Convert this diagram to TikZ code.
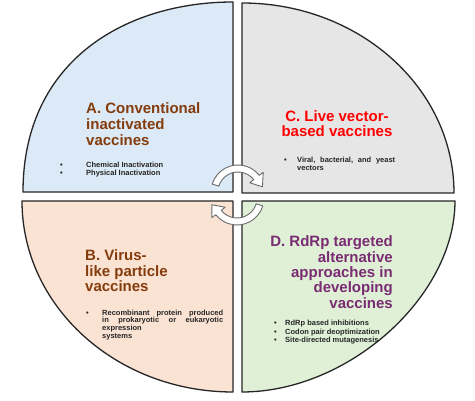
\documentclass[tikz,border=0pt]{standalone}
\usepackage{fontspec}
\setmainfont{Liberation Sans}
\definecolor{qA}{HTML}{DCE9F6}
\definecolor{qB}{HTML}{FBE3D4}
\definecolor{qC}{HTML}{E7E6E6}
\definecolor{qD}{HTML}{E0F0D7}
\definecolor{ttlbrown}{HTML}{843C0C}
\definecolor{ttlred}{HTML}{FF0000}
\definecolor{ttlpurple}{HTML}{7A2C73}
\definecolor{edge}{HTML}{262626}
\definecolor{arrowedge}{HTML}{6B6B6B}
\begin{document}
\begin{tikzpicture}[x=1pt,y=1pt,
  quad/.style={draw=edge, line width=1.3pt, line join=round},
  cyclearrow/.style={fill=white, draw=arrowedge, line width=0.9pt, line join=round},
  ttl/.style={font=\fontsize{15}{15.6}\selectfont\bfseries, inner sep=0pt},
  blt/.style={font=\fontsize{7.5}{8.3}\selectfont\bfseries, text=black!85, inner sep=0pt},
  bltB/.style={font=\fontsize{7.5}{7.6}\selectfont\bfseries, text=black!85, inner sep=0pt}]
\useasboundingbox (0,0) rectangle (475,401);
\fill[white] (0,0) rectangle (475,401);
% quadrants
\path[quad, fill=qA] (233,209) -- (233,399) .. controls (128,399) and (23,342) .. (23,209) -- cycle;
\path[quad, fill=qC] (242,208) -- (242,398) arc[start angle=90, end angle=0, x radius=212, y radius=190] -- cycle;
\path[quad, fill=qB] (233,200) -- (22,200) arc[start angle=180, end angle=270, x radius=211, y radius=191] -- cycle;
\path[quad, fill=qD] (242,200) -- (455,200) .. controls (455,104.5) and (348.5,9) .. (242,9) -- cycle;
% circular arrows
\begin{scope}[shift={(238,209)}]
\path[cyclearrow] (163:27) arc[start angle=163, end angle=38, radius=27] -- (38:32) -- (12:25) -- (38:15) -- (38:20) arc[start angle=38, end angle=163, radius=20] -- cycle;
\end{scope}
\begin{scope}[shift={(237,203)}]
\path[cyclearrow] (343:27) arc[start angle=343, end angle=218, radius=27] -- (218:32) -- (195:26) -- (218:15) -- (218:20) arc[start angle=218, end angle=343, radius=20] -- cycle;
\end{scope}
% A
\node[ttl, text=ttlbrown, align=left, anchor=base west] (At) at (86,255.8) {A. Conventional\\inactivated\\vaccines};
\node[blt, align=left, anchor=base west] (Ab) at (60,225.2) {\makebox[26pt][l]{\textbullet}Chemical Inactivation\\\makebox[26pt][l]{\textbullet}Physical Inactivation};
% C
\node[ttl, text=ttlred, align=center, anchor=base, font=\fontsize{15}{15.2}\selectfont\bfseries] (Ct) at (337,264) {C. Live vector-\\based vaccines};
\node[blt, align=left, anchor=base west] (Cb) at (284,230) {\makebox[13pt][l]{\textbullet}\hbox to 98pt{Viral,\hfill bacterial,\hfill and\hfill yeast}\\\hspace*{13pt}vectors};
% B
\node[ttl, text=ttlbrown, align=left, anchor=base west] (Bt) at (85,109.3) {B. Virus-\\like particle\\vaccines};
\node[bltB, align=left, anchor=base west] (Bb) at (86,62.8) {\makebox[16pt][l]{\textbullet}\hbox to 121pt{Recombinant\hfill protein\hfill produced}\\\hspace*{16pt}\hbox to 121pt{in\hfill prokaryotic\hfill or\hfill eukaryotic}\\\hspace*{16pt}expression\\\hspace*{16pt}systems};
% D
\node[ttl, text=ttlpurple, align=right, anchor=base east, font=\fontsize{15}{15.4}\selectfont\bfseries] (Dt) at (393,92.7) {D. RdRp targeted\\alternative\\approaches in\\developing\\vaccines};
\node[blt, align=left, anchor=base west] (Db) at (274,58.4) {\makebox[11pt][l]{\textbullet}RdRp based inhibitions\\\makebox[11pt][l]{\textbullet}Codon pair deoptimization\\\makebox[11pt][l]{\textbullet}Site-directed mutagenesis};
\end{tikzpicture}
\end{document}
